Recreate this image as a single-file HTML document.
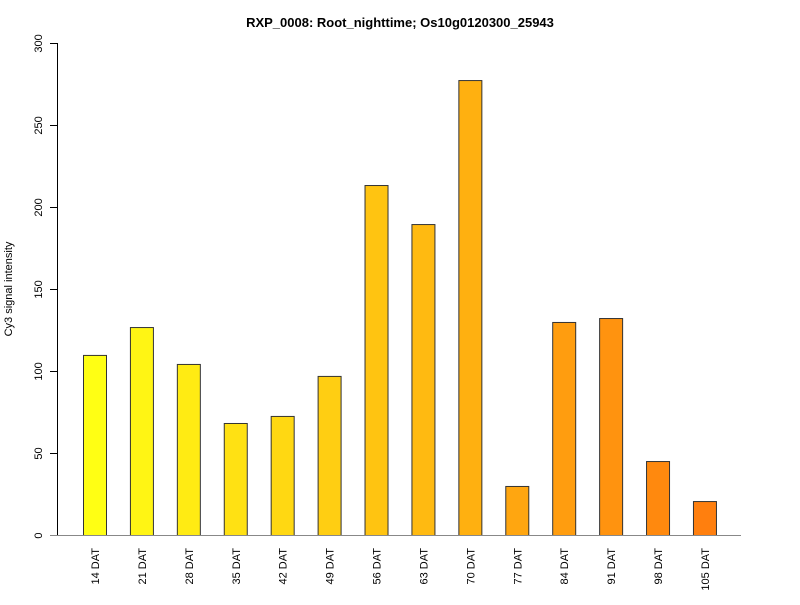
<!DOCTYPE html>
<html><head><meta charset="utf-8"><style>
body{margin:0;background:#fff;font-family:"Liberation Sans",sans-serif}
</style></head><body>
<svg width="800" height="600" xmlns="http://www.w3.org/2000/svg" font-family="Liberation Sans, sans-serif">
<rect width="800" height="600" fill="#fff"/>
<text x="400" y="27" text-anchor="middle" font-size="13" font-weight="bold">RXP_0008: Root_nighttime; Os10g0120300_25943</text>
<text transform="translate(12,289) rotate(-90)" text-anchor="middle" font-size="11">Cy3 signal intensity</text>
<g id="yaxis"></g>
<g id="bars"></g>
<line x1="50" y1="535.5" x2="741" y2="535.5" stroke="#888"/>
<g id="xlabels"></g>
</svg>
<script>
const categories=["14 DAT","21 DAT","28 DAT","35 DAT","42 DAT","49 DAT","56 DAT","63 DAT","70 DAT","77 DAT","84 DAT","91 DAT","98 DAT","105 DAT"];
const values=[109.8,126.8,104.3,68.3,72.6,97,213.4,189.6,277.4,29.9,129.9,132.3,45.1,20.7];
const yTicks=[0,50,100,150,200,250,300];
const NS="http://www.w3.org/2000/svg";
const y0=535,y300=43;
function yScale(v){return y0-(v/300)*(y0-y300);}
function xScale(i){return 83+i*46.92;}
const bw=23;
const ya=document.getElementById('yaxis');
let l=document.createElementNS(NS,'line');


l.setAttribute('x1',57.5);l.setAttribute('x2',57.5);l.setAttribute('y1',yScale(0));l.setAttribute('y2',yScale(300));l.setAttribute('stroke','#000');
ya.appendChild(l);
yTicks.forEach(t=>{
 const tk=document.createElementNS(NS,'line');
 
 
 const y=Math.round(yScale(t))+0.5;
 tk.setAttribute('x1',50);tk.setAttribute('x2',57.5);tk.setAttribute('y1',y);tk.setAttribute('y2',y);tk.setAttribute('stroke','#000');
 ya.appendChild(tk);
 const tx=document.createElementNS(NS,'text');
 
 
 tx.setAttribute('transform',`translate(42,${y}) rotate(-90)`);
 tx.setAttribute('text-anchor','middle');tx.setAttribute('font-size','11');
 tx.textContent=t;ya.appendChild(tx);
});
const bg=document.getElementById('bars'),xl=document.getElementById('xlabels');
const n=categories.length;
categories.forEach((c,i)=>{
 const f=i/(n-1);
 const g=Math.round(255-f*(255-127)),b=Math.round(20-f*6);
 const r=document.createElementNS(NS,'rect');
 
 
 const x=xScale(i),y=yScale(values[i]);
 r.setAttribute('x',x+0.5);r.setAttribute('y',y+0.5);r.setAttribute('width',bw);r.setAttribute('height',y0-y);
 r.setAttribute('fill',`rgb(255,${g},${b})`);r.setAttribute('stroke','#333');
 bg.appendChild(r);
 const t=document.createElementNS(NS,'text');
 
 
 t.setAttribute('transform',`translate(${x+bw/2+4.5},548) rotate(-90)`);
 t.setAttribute('text-anchor','end');t.setAttribute('font-size','11');
 t.textContent=c;xl.appendChild(t);
});
</script>
</body></html>
